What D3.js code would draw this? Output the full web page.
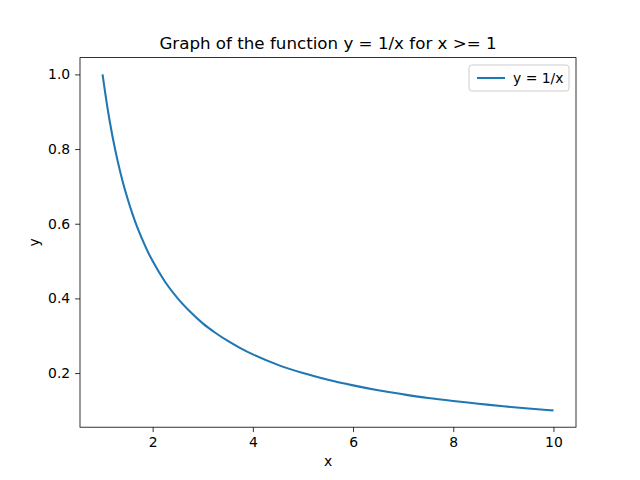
<!DOCTYPE html>
<html>
<head>
<meta charset="utf-8">
<script src="https://cdn.jsdelivr.net/npm/d3@7"></script>
<style>
  body { margin: 0; background: #fff; }
  svg { display: block; font-family: "DejaVu Sans", sans-serif; }
</style>
</head>
<body>
<svg id="chart" width="640" height="480"></svg>
<script>
// values
const xValues = [1, 1.1, 1.2, 1.3, 1.4, 1.5, 1.6, 1.7, 1.8, 1.9, 2, 2.25, 2.5, 2.75, 3, 3.25, 3.5, 3.75, 4,
  4.5, 5, 5.5, 6, 6.5, 7, 7.5, 8, 8.5, 9, 9.5, 10];
const yValues = [1, 0.909, 0.833, 0.769, 0.714, 0.667, 0.625, 0.588, 0.556, 0.526, 0.5, 0.444, 0.4, 0.364,
  0.333, 0.308, 0.286, 0.267, 0.25, 0.222, 0.2, 0.182, 0.167, 0.154, 0.143, 0.133, 0.125, 0.118, 0.111, 0.105, 0.1];
const xTicks = [2, 4, 6, 8, 10];
const yTicks = [0.2, 0.4, 0.6, 0.8, 1.0];
const seriesName = "y = 1/x";

const width = 640;
const height = 480;
const margin = { left: 80, right: 64, top: 57.6, bottom: 52.8 };

const svg = d3.select("#chart");

const x = d3.scaleLinear()
  .domain([0.55, 10.45])
  .range([margin.left, width - margin.right]);
const y = d3.scaleLinear()
  .domain([0.055, 1.045])
  .range([height - margin.bottom, margin.top]);

const data = xValues.map((v, i) => ({ x: v, y: yValues[i] }));

// axes
const xAxis = svg.append("g")
  .attr("transform", `translate(0,${height - margin.bottom})`)
  .call(d3.axisBottom(x).tickValues(xTicks).tickFormat(d3.format("d")).tickSize(4.9).tickPadding(4.9));
const yAxis = svg.append("g")
  .attr("transform", `translate(${margin.left},0)`)
  .call(d3.axisLeft(y).tickValues(yTicks).tickFormat(d3.format(".1f")).tickSize(4.9).tickPadding(4.9));

[xAxis, yAxis].forEach(g => {
  g.select(".domain").remove();
  g.selectAll("text").attr("font-size", 13.9).attr("fill", "#000").attr("font-family", "DejaVu Sans");
  g.selectAll("line").attr("stroke", "#000").attr("stroke-width", 0.8);
});

// frame
svg.append("rect")
  .attr("x", margin.left)
  .attr("y", margin.top)
  .attr("width", width - margin.left - margin.right)
  .attr("height", height - margin.top - margin.bottom)
  .attr("fill", "none")
  .attr("stroke", "#000")
  .attr("stroke-width", 0.8);

// curve
svg.append("path")
  .datum(data)
  .attr("fill", "none")
  .attr("stroke", "#1f77b4")
  .attr("stroke-width", 2.08)
  .attr("d", d3.line().x(d => x(d.x)).y(d => y(d.y)).curve(d3.curveMonotoneX));

// title and labels
svg.append("text")
  .attr("x", (margin.left + width - margin.right) / 2)
  .attr("y", 49)
  .attr("text-anchor", "middle")
  .attr("font-size", 16.7)
  .text("Graph of the function y = 1/x for x >= 1");

svg.append("text")
  .attr("x", (margin.left + width - margin.right) / 2)
  .attr("y", 466)
  .attr("text-anchor", "middle")
  .attr("font-size", 13.9)
  .text("x");

svg.append("text")
  .attr("transform", `translate(39,${(margin.top + height - margin.bottom) / 2}) rotate(-90)`)
  .attr("text-anchor", "middle")
  .attr("font-size", 13.9)
  .text("y");

// legend
const legend = svg.append("g").attr("transform", "translate(469,65)");
legend.append("rect")
  .attr("width", 100)
  .attr("height", 26)
  .attr("rx", 2.8)
  .attr("fill", "#fff")
  .attr("fill-opacity", 0.8)
  .attr("stroke", "#ccc")
  .attr("stroke-width", 1);
legend.append("line")
  .attr("x1", 8).attr("x2", 36)
  .attr("y1", 13).attr("y2", 13)
  .attr("stroke", "#1f77b4")
  .attr("stroke-width", 2.08);
legend.append("text")
  .attr("x", 44)
  .attr("y", 18)
  .attr("font-size", 13.9)
  .text(seriesName);
</script>
</body>
</html>
